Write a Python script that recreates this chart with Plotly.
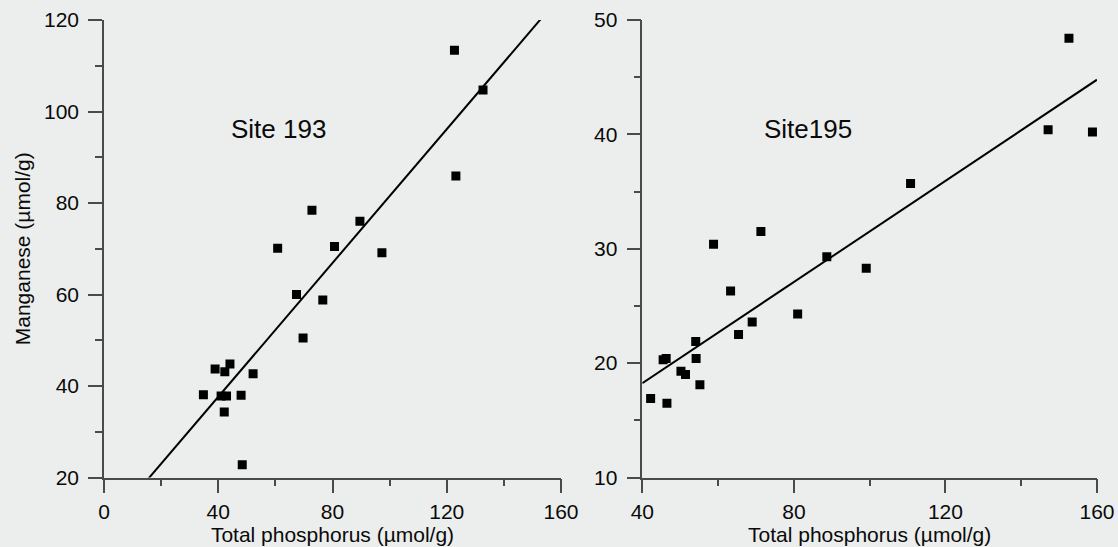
import numpy as np
import plotly.graph_objects as go

# ---- data ----
site193_tp = [122.7, 132.7, 123.2, 72.8, 89.6, 60.8, 80.7, 97.3, 67.4, 76.6, 69.7,
              38.9, 44.1, 42.3, 52.2, 34.8, 41.0, 42.9, 48.0, 42.1, 48.4]
site193_mn = [113.4, 104.7, 85.9, 78.4, 76.0, 70.1, 70.5, 69.1, 60.0, 58.8, 50.5,
              43.7, 44.8, 43.1, 42.7, 38.1, 37.8, 37.8, 38.0, 34.3, 22.8]

site195_tp = [152.6, 147.1, 158.8, 110.8, 58.8, 71.3, 88.7, 99.1, 63.3, 81.0, 69.0,
              65.4, 54.1, 45.5, 46.3, 54.2, 50.2, 51.4, 55.2, 42.2, 46.5]
site195_mn = [48.4, 40.4, 40.2, 35.7, 30.4, 31.5, 29.3, 28.3, 26.3, 24.3, 23.6,
              22.5, 21.9, 20.3, 20.4, 20.4, 19.3, 19.0, 18.1, 16.9, 16.5]

site_labels = ["Site 193", "Site195"]
x_title = "Total phosphorus (µmol/g)"
y_title = "Manganese (µmol/g)"

x_range_193 = [0, 160]
y_range_193 = [20, 120]
x_range_195 = [40, 160]
y_range_195 = [10, 50]

# ---- figure ----
W, H = 1118, 547
AX = "#4a4a4a"
TXT = "#0a0a0a"
FONT = "Liberation Sans, Arial, sans-serif"

def fit_line(x, y, xr):
    k, b = np.polyfit(x, y, 1)
    xs = np.array(xr, dtype=float)
    return xs, k * xs + b

fig = go.Figure()
fig.add_trace(go.Scatter(x=site193_tp, y=site193_mn, mode="markers",
                         marker=dict(symbol="square", size=9, color="black"),
                         xaxis="x", yaxis="y", showlegend=False))
lx, ly = fit_line(site193_tp, site193_mn, x_range_193)
fig.add_trace(go.Scatter(x=lx, y=ly, mode="lines", line=dict(color="black", width=2),
                         xaxis="x", yaxis="y", showlegend=False))

fig.add_trace(go.Scatter(x=site195_tp, y=site195_mn, mode="markers",
                         marker=dict(symbol="square", size=9, color="black"),
                         xaxis="x2", yaxis="y2", showlegend=False))
lx2, ly2 = fit_line(site195_tp, site195_mn, x_range_195)
fig.add_trace(go.Scatter(x=lx2, y=ly2, mode="lines", line=dict(color="black", width=2),
                         xaxis="x2", yaxis="y2", showlegend=False))

def minor(dt):
    return dict(ticks="outside", ticklen=7, tickcolor=AX, tickwidth=1.5, dtick=dt)

def axis_common(**kw):
    d = dict(showline=True, linecolor=AX, linewidth=1.5, ticks="outside",
             ticklen=14, tickwidth=1.5, tickcolor=AX, showgrid=False, zeroline=False,
             tickfont=dict(family=FONT, size=21, color=TXT),
             mirror=False, fixedrange=True, automargin=False)
    d.update(kw)
    return d

yd = [1 - 477.5 / H, 1 - 20 / H]
fig.update_layout(
    width=W, height=H, margin=dict(l=0, r=0, t=0, b=0, autoexpand=False),
    paper_bgcolor="#eceeed", plot_bgcolor="rgba(0,0,0,0)",
    font=dict(family=FONT, color=TXT),
    xaxis=axis_common(domain=[104 / W, 561 / W], range=x_range_193, dtick=40, tick0=0,
                      minor=minor(20), anchor="y", ticklabelstandoff=1,
                      title=dict(text=x_title, font=dict(size=21, color=TXT), standoff=0)),
    yaxis=axis_common(domain=yd, range=y_range_193, dtick=20, tick0=0,
                      minor=minor(10), anchor="x", ticklabelstandoff=5,
                      title=dict(text=y_title, font=dict(size=21, color=TXT), standoff=8)),
    xaxis2=axis_common(domain=[642.3 / W, 1097 / W], range=x_range_195, dtick=40, tick0=0,
                       minor=minor(20), anchor="y2", ticklabelstandoff=1,
                       title=dict(text=x_title, font=dict(size=21, color=TXT), standoff=0)),
    yaxis2=axis_common(domain=yd, range=y_range_195, dtick=10, tick0=0,
                       minor=minor(5), anchor="x2", ticklabelstandoff=5),
    annotations=[
        dict(text=site_labels[0], x=61, y=96.2, xref="x", yref="y", showarrow=False,
             font=dict(family=FONT, size=26, color=TXT)),
        dict(text=site_labels[1], x=83.8, y=40.5, xref="x2", yref="y2", showarrow=False,
             font=dict(family=FONT, size=26, color=TXT)),
    ],
)

fig.write_html("out.html")
